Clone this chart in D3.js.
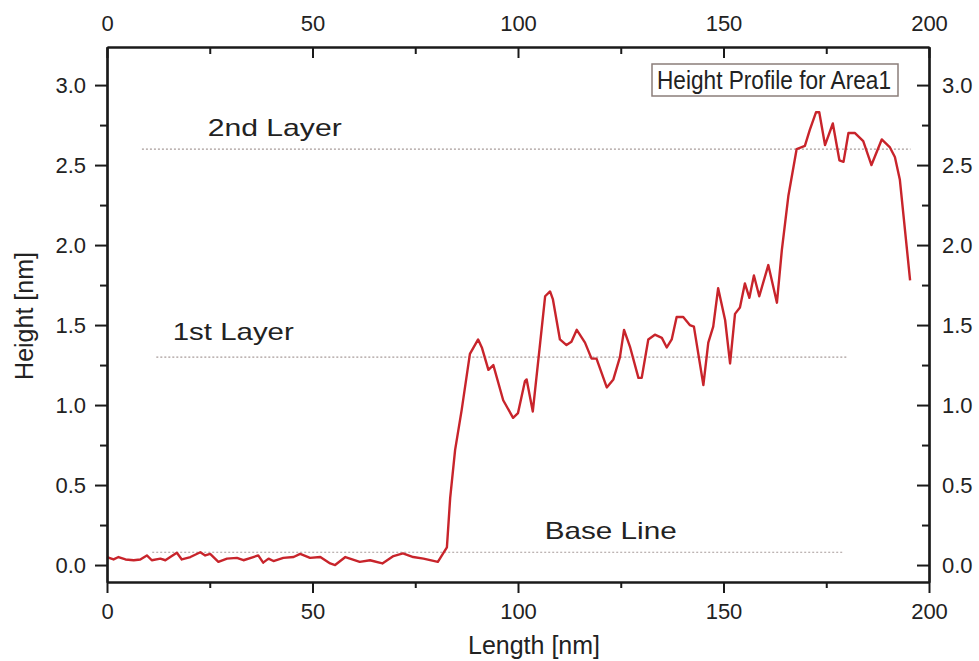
<!DOCTYPE html>
<html>
<head>
<meta charset="utf-8">
<script src="https://cdn.jsdelivr.net/npm/d3@7"></script>
<style>
    body { margin: 0; background: #ffffff; }
    svg { display: block; }
    text { font-family: "Liberation Sans", Arial, sans-serif; fill: #222; }
</style>
</head>
<body>
<svg id="chart" width="979" height="661"></svg>
<script>
// Height profile (nm)
const lengthNm = [
    0, 1.6, 2.8, 4.5, 6.5, 8.1, 9.7, 10.9, 13, 14.2, 15.4, 17, 18.2, 20.3, 22.7, 23.9,
    25.1, 27.1, 29.2, 31.6, 33.2, 35.6, 36.8, 38, 39.3, 40.5, 42.9, 45.4, 47, 49.4, 51.9,
    54.3, 55.5, 58, 61.5, 64, 67, 69.7, 72, 74.5, 77, 80.5, 82.7, 83.5, 84.7, 86.3, 88.3,
    90.3, 91.2, 92.8, 94, 96.4, 98.8, 100, 101.7, 102.1, 103.6, 105.4, 106.6, 107.8, 108.5,
    110.2, 111.8, 113, 114.3, 116.3, 117.9, 119.1, 121.6, 123.2, 124.8, 125.8, 127.3, 129.3,
    130.1, 131.7, 133.3, 135, 136.2, 137.4, 138.6, 140.2, 141.8, 142.8, 145.1, 146.3, 147.5,
    148.7, 150.4, 151.6, 152.8, 154, 155.2, 156.3, 157.4, 158.7, 160.9, 163, 164.2, 165.8,
    167.8, 169.8, 171, 172.5, 173.3, 174.7, 176.6, 178.2, 179.2, 180.4, 182, 184, 186, 188.5,
    190.5, 191.7, 192.9, 195.4
];
const heightNm = [
    0.05, 0.035, 0.05, 0.035, 0.03, 0.035, 0.06, 0.03, 0.04, 0.03, 0.05, 0.077, 0.035, 0.05, 0.08, 0.06,
    0.07, 0.02, 0.04, 0.045, 0.03, 0.05, 0.06, 0.015, 0.04, 0.025, 0.045, 0.05, 0.07, 0.045, 0.05,
    0.01, 0.0, 0.05, 0.02, 0.03, 0.01, 0.056, 0.073, 0.05, 0.04, 0.02, 0.11, 0.42, 0.72, 0.97, 1.32,
    1.41, 1.36, 1.22, 1.25, 1.03, 0.92, 0.95, 1.15, 1.16, 0.96, 1.39, 1.68, 1.71, 1.66,
    1.41, 1.375, 1.395, 1.47, 1.39, 1.29, 1.29, 1.11, 1.16, 1.30, 1.47, 1.36, 1.17,
    1.17, 1.41, 1.44, 1.42, 1.36, 1.41, 1.55, 1.55, 1.50, 1.49, 1.125, 1.39, 1.49,
    1.73, 1.53, 1.26, 1.57, 1.61, 1.76, 1.67, 1.81, 1.68, 1.875, 1.64, 1.97, 2.31,
    2.60, 2.62, 2.72, 2.83, 2.83, 2.625, 2.76, 2.53, 2.52, 2.70, 2.70, 2.65, 2.50, 2.66,
    2.61, 2.55, 2.41, 1.78
];

// Dotted reference levels
const layerNames = ["2nd Layer", "1st Layer", "Base Line"];
const layerLevels = [2.6, 1.3, 0.08];
const layerFrom = [8.5, 12, 11];
const layerTo = [195.5, 180, 179];

// Axis ticks
const xTicks = [0, 50, 100, 150, 200];
const xMinorTicks = [25, 75, 125, 175];
const yTicks = [0.0, 0.5, 1.0, 1.5, 2.0, 2.5, 3.0];
const yMinorTicks = [0.25, 0.75, 1.25, 1.75, 2.25, 2.75];

const boxTitle = "Height Profile for Area1";
const xTitle = "Length [nm]";
const yTitle = "Height [nm]";

const svg = d3.select("#chart");

// plot frame
const plotLeft = 107, plotRight = 929, plotTop = 47, plotBottom = 582;

const x = d3.scaleLinear().domain([0, 200]).range([plotLeft, plotRight]);
const y = d3.scaleLinear().domain([-0.106, 3.238]).range([plotBottom, plotTop]);

// reference dotted lines
layerLevels.forEach((lvl, i) => {
    svg.append("line")
        .attr("x1", x(layerFrom[i])).attr("x2", x(layerTo[i]))
        .attr("y1", y(lvl)).attr("y2", y(lvl))
        .attr("stroke", "#a89c9a")
        .attr("stroke-width", 1.2)
        .attr("stroke-dasharray", "2,2");
});

// layer labels (placed in data coords just above each level)
const labelAt = [
    { nm: 24.5, dy: -13, w: 134 },
    { nm: 16, dy: -17, w: 121 },
    { nm: 106.5, dy: -13, w: 132 }
];
layerNames.forEach((name, i) => {
    svg.append("text")
        .attr("x", x(labelAt[i].nm))
        .attr("y", y(layerLevels[i]) + labelAt[i].dy)
        .attr("font-size", "24px")
        .attr("textLength", labelAt[i].w)
        .attr("lengthAdjust", "spacingAndGlyphs")
        .text(name);
});

// profile line
const line = d3.line()
    .x((d, i) => x(lengthNm[i]))
    .y(d => y(d));

svg.append("path")
    .datum(heightNm)
    .attr("d", line)
    .attr("fill", "none")
    .attr("stroke", "#c8242b")
    .attr("stroke-width", 2.4)
    .attr("stroke-linejoin", "round");

// title box
svg.append("rect")
    .attr("x", 652).attr("y", 64)
    .attr("width", 246).attr("height", 32)
    .attr("fill", "#fff")
    .attr("stroke", "#8b7e7a")
    .attr("stroke-width", 1.5);
svg.append("text")
    .attr("x", 657).attr("y", 89)
    .attr("font-size", "25px")
    .attr("textLength", 234)
    .attr("lengthAdjust", "spacingAndGlyphs")
    .text(boxTitle);

// axes
const fontTick = "22px";

// bottom: ticks outward
const xBottom = svg.append("g").attr("transform", `translate(0,${plotBottom})`);
xBottom.call(d3.axisBottom(x).tickValues(xTicks).tickSize(11).tickSizeOuter(0).tickPadding(10).tickFormat(d3.format("d")));
xBottom.append("g").call(d3.axisBottom(x).tickValues(xMinorTicks).tickSize(6).tickSizeOuter(0).tickFormat(""));

// top: ticks inward
const xTop = svg.append("g").attr("transform", `translate(0,${plotTop})`);
xTop.call(d3.axisTop(x).tickValues(xTicks).tickSize(-11).tickSizeOuter(0).tickPadding(16).tickFormat(d3.format("d")));
xTop.append("g").call(d3.axisTop(x).tickValues(xMinorTicks).tickSize(-7).tickSizeOuter(0).tickFormat(""));

// left: ticks outward
const yLeft = svg.append("g").attr("transform", `translate(${plotLeft},0)`);
yLeft.call(d3.axisLeft(y).tickValues(yTicks).tickSize(12).tickSizeOuter(0).tickPadding(9).tickFormat(d3.format(".1f")));
yLeft.append("g").call(d3.axisLeft(y).tickValues(yMinorTicks).tickSize(7).tickSizeOuter(0).tickFormat(""));

// right: ticks inward
const yRight = svg.append("g").attr("transform", `translate(${plotRight},0)`);
yRight.call(d3.axisRight(y).tickValues(yTicks).tickSize(-12).tickSizeOuter(0).tickPadding(13).tickFormat(d3.format(".1f")));
yRight.append("g").call(d3.axisRight(y).tickValues(yMinorTicks).tickSize(-7).tickSizeOuter(0).tickFormat(""));

[xBottom, xTop, yLeft, yRight].forEach(g => {
    g.selectAll(".domain").attr("stroke", "#1a1a1a").attr("stroke-width", 2.2);
    g.selectAll("line").attr("stroke", "#1a1a1a").attr("stroke-width", 2);
    g.selectAll("text").attr("font-size", fontTick)
        .attr("font-family", "Liberation Sans, Arial, sans-serif")
        .attr("fill", "#222");
});

// axis titles
svg.append("text")
    .attr("x", 534).attr("y", 654)
    .attr("text-anchor", "middle")
    .attr("font-size", "25px")
    .text(xTitle);

svg.append("text")
    .attr("transform", `translate(33,${316}) rotate(-90)`)
    .attr("text-anchor", "middle")
    .attr("font-size", "25px")
    .text(yTitle);
</script>
</body>
</html>
